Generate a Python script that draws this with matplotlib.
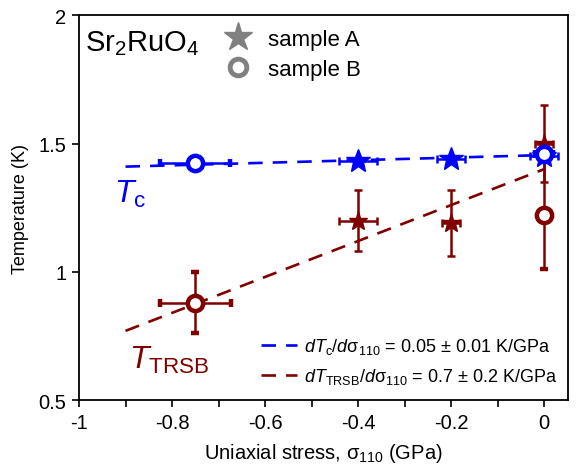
import matplotlib.pyplot as plt
from matplotlib.lines import Line2D
from matplotlib.ticker import MultipleLocator

# sample A (stars)
stress_a = [-0.4, -0.2, 0.0]
stress_a_err = [0.041, 0.03, 0.03]
tc_a = [1.43, 1.44, 1.45]
trsb_a = [1.20, 1.19, 1.50]
trsb_a_err = [0.12, 0.13, 0.15]
trsb_a_xerr = [0.041, 0.02, 0.02]

# sample B (circles)
stress_b = [-0.75, 0.0]
stress_b_err = [0.075, 0.02]
tc_b = [1.425, 1.46]
trsb_b = [0.88, 1.22]
trsb_b_err = [0.118, 0.21]
trsb_b_xerr = [0.076, 0.0]

# linear fits
fit_x = [-0.9, 0.0]
tc_fit = (1.455, 0.05)
trsb_fit = (1.40, 0.70)

BLUE = '#0000ff'
RED = '#800000'
GRAY = '#808080'


def main():
    plt.rcParams['font.family'] = ['Liberation Sans', 'DejaVu Sans']
    plt.rcParams['mathtext.fontset'] = 'custom'
    plt.rcParams['mathtext.rm'] = 'Liberation Sans'
    plt.rcParams['mathtext.it'] = 'Liberation Sans:italic'

    fig = plt.figure(figsize=(5.81, 4.77), dpi=100)
    ax = fig.add_axes([0.136, 0.159, 0.842, 0.807])

    # fit lines
    l_tc, = ax.plot(fit_x, [tc_fit[0] + tc_fit[1] * x for x in fit_x],
                    '--', color=BLUE, lw=1.9, dashes=(5.5, 3.8))
    l_tr, = ax.plot(fit_x, [trsb_fit[0] + trsb_fit[1] * x for x in fit_x],
                    '--', color=RED, lw=1.9, dashes=(5.5, 3.8))

    ekw = dict(elinewidth=1.8, capsize=3, capthick=1.8, linestyle='none')

    # T_TRSB
    ax.errorbar(stress_a, trsb_a, yerr=trsb_a_err, xerr=trsb_a_xerr,
                marker='*', ms=14, color=RED, mec=RED, **ekw)
    ax.errorbar(stress_b, trsb_b, yerr=trsb_b_err, xerr=trsb_b_xerr,
                marker='o', ms=11, mfc='white', mec=RED, mew=3.2,
                color=RED, **ekw)

    # T_c
    ax.errorbar(stress_a, tc_a, xerr=stress_a_err,
                marker='*', ms=18, color=BLUE, mec=BLUE, **ekw)
    ax.errorbar(stress_b, tc_b, xerr=stress_b_err,
                marker='o', ms=11, mfc='white', mec=BLUE, mew=3.2,
                color=BLUE, **ekw)

    ax.set_xlim(-1, 0.052)
    ax.set_ylim(0.5, 2)
    ax.xaxis.set_minor_locator(MultipleLocator(0.1))
    ax.set_xticks([-1, -0.8, -0.6, -0.4, -0.2, 0])
    ax.set_xticklabels(['-1', '-0.8', '-0.6', '-0.4', '-0.2', '0'])
    ax.set_yticks([0.5, 1, 1.5, 2])
    ax.set_yticklabels(['0.5', '1', '1.5', '2'])
    ax.tick_params(direction='out', labelsize=14.5, width=1.2, length=5,
                   pad=4)
    ax.tick_params(which='minor', direction='out', width=1.2, length=5)
    for s in ax.spines.values():
        s.set_linewidth(1.3)

    ax.set_xlabel(r'Uniaxial stress, $\mathrm{\sigma}_{110}$ (GPa)',
                  fontsize=14.5, labelpad=7)
    ax.set_ylabel('Temperature (K)', fontsize=13, labelpad=7)

    ax.text(0.012, 0.965, r'Sr$_2$RuO$_4$', transform=ax.transAxes,
            fontsize=21, va='top', ha='left')
    ax.text(0.072, 0.515, r'$T_{\mathrm{c}}$', transform=ax.transAxes,
            fontsize=23, color=BLUE)
    ax.text(0.102, 0.083, r'$T_{\mathrm{TRSB}}$', transform=ax.transAxes,
            fontsize=23, color=RED)

    h_a = Line2D([], [], marker='*', ms=21, color=GRAY, ls='none')
    h_b = Line2D([], [], marker='o', ms=12, mfc='white', mec=GRAY, mew=3.5,
                 ls='none')
    leg1 = ax.legend([h_a, h_b], ['sample A', 'sample B'],
                     loc='upper left', bbox_to_anchor=(0.25, 1.016),
                     frameon=False, fontsize=16, handletextpad=0.6,
                     labelspacing=0.4, handlelength=1.5)
    ax.add_artist(leg1)

    ax.legend([l_tc, l_tr],
              [r'$dT_{\mathrm{c}}/d\mathrm{\sigma}_{110}$ = 0.05 $\pm$ 0.01 K/GPa',
               r'$dT_{\mathrm{TRSB}}/d\mathrm{\sigma}_{110}$ = 0.7 $\pm$ 0.2 K/GPa'],
              loc='lower right', bbox_to_anchor=(1.012, -0.005),
              frameon=False, fontsize=13, handlelength=2.0,
              handletextpad=0.4, labelspacing=0.55)

    fig.savefig('out.png', dpi=100)


if __name__ == '__main__':
    main()
